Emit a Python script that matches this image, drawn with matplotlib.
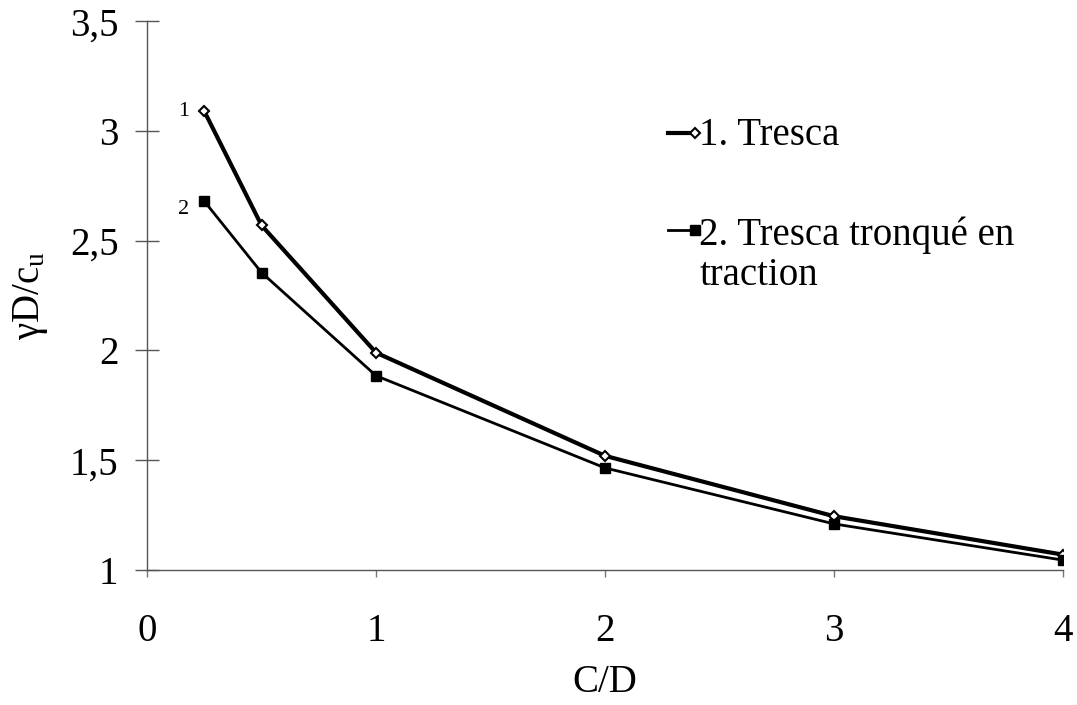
import matplotlib
matplotlib.use("Agg")
import matplotlib.pyplot as plt
from matplotlib.lines import Line2D

plt.rcParams['font.family'] = ['Liberation Serif', 'DejaVu Serif']
plt.rcParams['mathtext.fontset'] = 'stix'

# C/D ratios and the two stability curves
cd = [0.25, 0.5, 1, 2, 3, 4]
tresca = [3.09, 2.57, 1.99, 1.52, 1.245, 1.07]
tresca_tronque = [2.68, 2.355, 1.885, 1.465, 1.21, 1.045]

labels = ['1. Tresca', '2. Tresca tronqué en\ntraction']
yticks = [1, 1.5, 2, 2.5, 3, 3.5]
yticklabels = ['1', '1,5', '2', '2,5', '3', '3,5']
xticks = [0, 1, 2, 3, 4]

FS = 28

fig = plt.figure(figsize=(10.77, 7.05), dpi=100)
ax = fig.add_axes([0.1365, 0.1915, 0.8505, 0.7785])

style1 = dict(color='black', lw=3.0, marker='D', ms=5.5, mfc='white',
              mec='black', mew=1.5)
style2 = dict(color='black', lw=2.0, marker='s', ms=7.5, mfc='black',
              mec='black')
ax.plot(cd, tresca, **style1)
ax.plot(cd, tresca_tronque, **style2)

# curve numbers next to the first points
ax.annotate('1', (cd[0], tresca[0]), xytext=(-11, 0), textcoords='offset points',
            fontsize=16, ha='right', va='center')
ax.annotate('2', (cd[0], tresca_tronque[0]), xytext=(-11, -6),
            textcoords='offset points', fontsize=16, ha='right', va='center')

ax.set_xlim(0, 4)
ax.set_ylim(1, 3.5)
ax.set_xticks(xticks)
ax.set_xticklabels([str(x) for x in xticks])
ax.set_yticks(yticks)
ax.set_yticklabels(yticklabels)

for side in ['top', 'right']:
    ax.spines[side].set_visible(False)
for side in ['left', 'bottom']:
    ax.spines[side].set_color('#555555')
    ax.spines[side].set_linewidth(1.0)

ax.tick_params(axis='y', direction='inout', length=17, width=1, color='#555555',
               labelsize=FS, pad=12)
ax.tick_params(axis='x', direction='out', length=5, width=1, color='#777777',
               labelsize=FS, pad=26)

ax.set_xlabel('C/D', fontsize=FS, labelpad=10)
ax.set_ylabel(r'γD/c$_\mathregular{u}$', fontsize=FS, labelpad=14)

# legend drawn by hand, as in the original
tr = ax.transAxes
ax.add_line(Line2D([0.569, 0.598], [0.796, 0.796], transform=tr,
                   markevery=[1], clip_on=False, **style1))
ax.text(0.603, 0.774, labels[0], transform=tr, fontsize=FS, va='baseline')
ax.add_line(Line2D([0.569, 0.598], [0.619, 0.619], transform=tr,
                   markevery=[1], clip_on=False, **style2))
# multi-line text: baseline refers to the last line
ax.text(0.603, 0.519, labels[1], transform=tr, fontsize=FS, va='baseline',
        linespacing=1.1)

fig.savefig('out.png', dpi=100)
